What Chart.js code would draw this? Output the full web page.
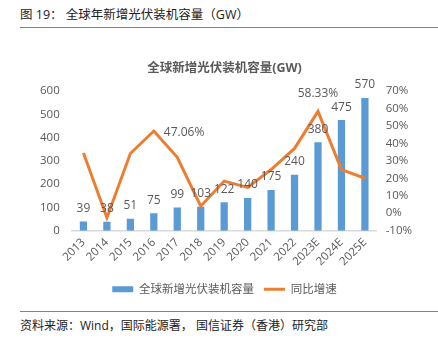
<!DOCTYPE html>
<html>
<head>
<meta charset="utf-8">
<script src="https://cdn.jsdelivr.net/npm/chart.js@4.4.1/dist/chart.umd.min.js"></script>
<style>
  body { margin: 0; width: 438px; height: 351px; background: #fff; position: relative; overflow: hidden;
         font-family: "Open Sans", "Noto Sans CJK SC", sans-serif; }
  #head { position: absolute; left: 20px; top: 4px; font-size: 12.5px; color: #222; }
  #headLine { position: absolute; left: 20px; right: 0; top: 27px; border-top: 1.5px solid #4a8fd4; }
  #footLine { position: absolute; left: 20px; right: 0; top: 311px; border-top: 1.5px solid #4a8fd4; }
  #foot { position: absolute; left: 20px; top: 316px; font-size: 12px; color: #222; }
  #wrap { position: absolute; left: 0; top: 52px; width: 438px; height: 253px; }
</style>
</head>
<body>
<div id="head">图 19：&nbsp;全球年新增光伏装机容量（GW）</div>
<div id="headLine"></div>
<div id="wrap"><canvas id="pvChart"></canvas></div>
<div id="footLine"></div>
<div id="foot">资料来源：Wind，国际能源署，&nbsp;国信证券（香港）研究部</div>
<script>
const years = ["2013", "2014", "2015", "2016", "2017", "2018", "2019", "2020", "2021", "2022", "2023E", "2024E", "2025E"];
const capacity = [39, 38, 51, 75, 99, 103, 122, 140, 175, 240, 380, 475, 570];
const growth = [34.5, -2.6, 34.2, 47.06, 32.0, 4.0, 18.4, 14.8, 25.0, 37.1, 58.33, 25.0, 20.0];
const growthLabelled = ["2016", "2023E"];

const barColor = "#5b9bd5";
const lineColor = "#ed7d31";
const textColor = "#595959";
const fontFamily = "\"Open Sans\", \"Noto Sans CJK SC\", sans-serif";

// values above bars + two growth callouts
const valueLabels = {
  id: "valueLabels",
  afterDatasetsDraw(chart) {
    const ctx = chart.ctx;
    ctx.save();
    ctx.fillStyle = textColor;
    ctx.font = "12px " + fontFamily;
    ctx.textAlign = "center";
    ctx.textBaseline = "middle";
    chart.getDatasetMeta(0).data.forEach((bar, i) => {
      ctx.fillText(capacity[i], bar.x, bar.y - 13);
    });
    chart.getDatasetMeta(1).data.forEach((pt, i) => {
      if (!growthLabelled.includes(years[i])) return;
      const txt = growth[i].toFixed(2) + "%";
      if (years[i] === "2016") {
        ctx.textAlign = "left";
        ctx.fillText(txt, pt.x + 10, pt.y + 2);
      } else {
        ctx.textAlign = "center";
        ctx.fillText(txt, pt.x, pt.y - 18);
      }
    });
    ctx.restore();
  }
};

new Chart(document.getElementById("pvChart"), {
  data: {
    labels: years,
    datasets: [
      {
        type: "bar",
        label: "全球新增光伏装机容量",
        data: capacity,
        backgroundColor: barColor,
        yAxisID: "y",
        barPercentage: 0.62,
        categoryPercentage: 0.5,
        order: 2
      },
      {
        type: "line",
        label: "同比增速",
        data: growth,
        borderColor: lineColor,
        backgroundColor: lineColor,
        borderWidth: 3,
        pointRadius: 0,
        tension: 0,
        yAxisID: "y1",
        order: 1
      }
    ]
  },
  plugins: [valueLabels],
  options: {
    responsive: true,
    maintainAspectRatio: false,
    animation: false,
    layout: { padding: { left: 28, right: 17, top: 0, bottom: 0 } },
    plugins: {
      title: {
        display: true,
        text: "全球新增光伏装机容量(GW)",
        color: textColor,
        font: { family: fontFamily, size: 12.5, weight: "bold" },
        padding: { top: 9, bottom: 15 }
      },
      legend: {
        position: "bottom",
        labels: {
          color: textColor,
          font: { family: fontFamily, size: 11.5 },
          usePointStyle: true,
          pointStyleWidth: 21,
          boxHeight: 6,
          padding: 10,
          generateLabels: () => [
            { text: "全球新增光伏装机容量", fillStyle: barColor, strokeStyle: barColor, lineWidth: 0,
              pointStyle: "rect", fontColor: textColor, datasetIndex: 0 },
            { text: "同比增速", fillStyle: lineColor, strokeStyle: lineColor, lineWidth: 3,
              pointStyle: "line", fontColor: textColor, datasetIndex: 1 }
          ]
        }
      },
      tooltip: { enabled: false }
    },
    scales: {
      x: {
        grid: { display: false, drawTicks: false },
        border: { display: true, color: "#d9d9d9", width: 1.5 },
        ticks: { autoSkip: false, color: textColor, font: { family: fontFamily, size: 11.5 }, maxRotation: 45, minRotation: 45, padding: 5 }
      },
      y: {
        position: "left",
        min: 0, max: 600,
        grid: { display: false, drawTicks: false },
        border: { display: false },
        ticks: { stepSize: 100, autoSkip: false, color: textColor, font: { family: fontFamily, size: 11.5 }, padding: 12 }
      },
      y1: {
        position: "right",
        min: -10, max: 70,
        grid: { display: false, drawTicks: false },
        border: { display: false },
        ticks: { stepSize: 10, autoSkip: false, color: textColor, font: { family: fontFamily, size: 11.5 }, padding: 9,
                 callback: (v) => v + "%" }
      }
    }
  }
});
</script>
</body>
</html>
